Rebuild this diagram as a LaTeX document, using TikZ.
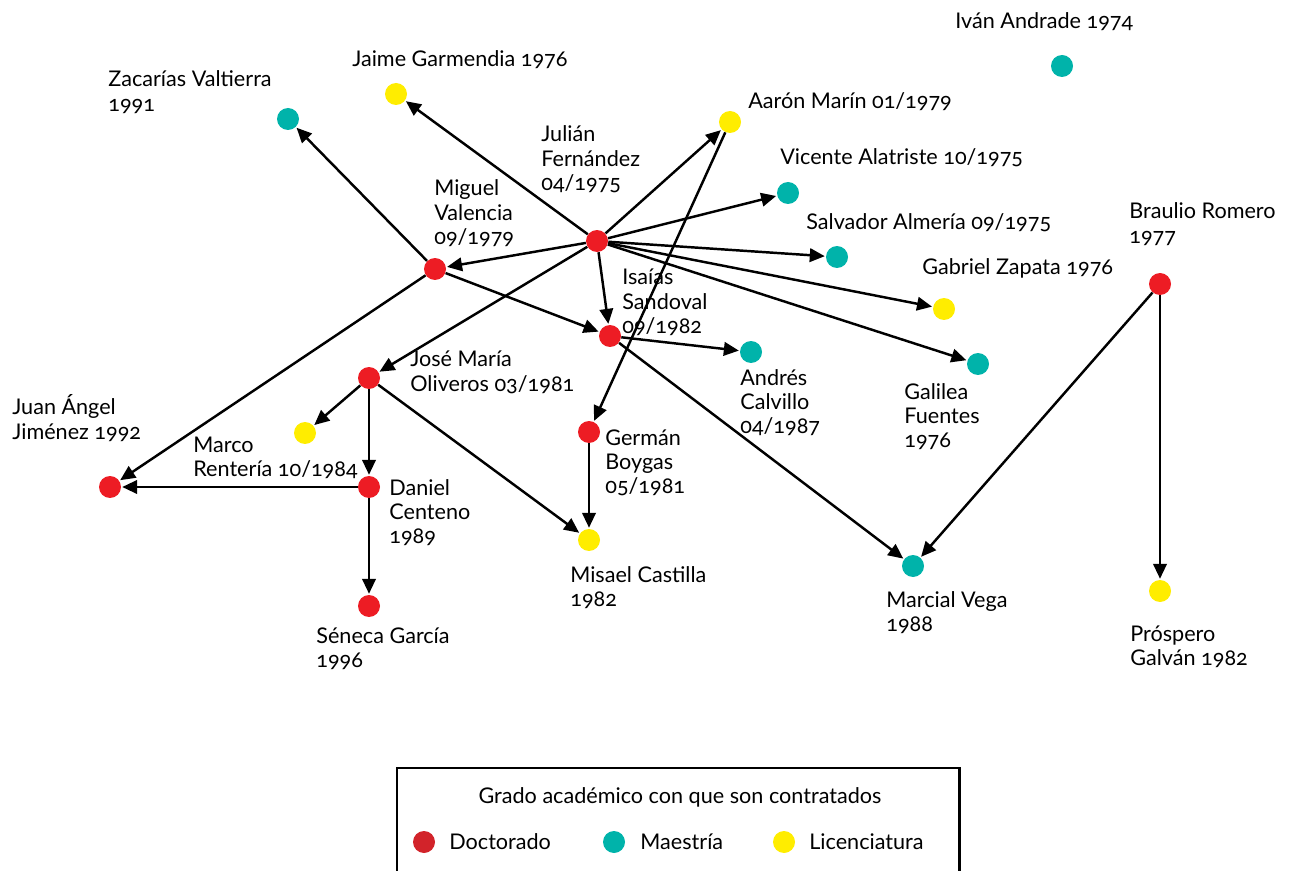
\documentclass[tikz,border=0pt]{standalone}
\usepackage{fontspec}
\setmainfont[Numbers=OldStyle]{Lato}
\usetikzlibrary{arrows.meta}
\definecolor{docred}{HTML}{ED1C24}
\definecolor{legred}{HTML}{D2232A}
\definecolor{masteal}{HTML}{00B3AA}
\definecolor{licyel}{HTML}{FFED00}
\newcommand\lines[1]{\begin{tabular}[t]{@{}l@{}}#1\end{tabular}}
\tikzset{
  dot/.style={circle, inner sep=0pt, minimum size=0.44cm},
  doc/.style={dot, fill=docred},
  mae/.style={dot, fill=masteal},
  lic/.style={dot, fill=licyel},
  lbl/.style={anchor=base west, inner sep=0pt,
    font=\fontsize{12.3pt}{13.9pt}\selectfont},
  link/.style={line width=1.4pt, -{Triangle[length=0.3cm,width=0.27cm]}, shorten >=0.5pt},
}
\begin{document}
\begin{tikzpicture}[x=0.02cm, y=-0.02cm]
\useasboundingbox (0,0) rectangle (1291,871);

% people
\node[doc] (julian)   at (597,241) {};
\node[doc] (miguel)   at (435,269) {};
\node[doc] (isaias)   at (610,336) {};
\node[doc] (jose)     at (369,378) {};
\node[doc] (daniel)   at (369,487) {};
\node[doc] (seneca)   at (369,606) {};
\node[doc] (juan)     at (110,487) {};
\node[doc] (german)   at (589,432) {};
\node[doc] (braulio)  at (1160,284) {};
\node[lic] (misael)   at (589,540) {};
\node[lic] (marco)    at (305,433) {};
\node[lic] (prospero) at (1160,591) {};
\node[lic] (gabriel)  at (944,309) {};
\node[lic] (aaron)    at (730,122) {};
\node[lic] (jaime)    at (396,94) {};
\node[mae] (marcial)  at (913,566) {};
\node[mae] (andres)   at (751,352) {};
\node[mae] (galilea)  at (978,364) {};
\node[mae] (salvador) at (837,257) {};
\node[mae] (vicente)  at (788,193) {};
\node[mae] (zacarias) at (288,119) {};
\node[mae] (ivan)     at (1062,66) {};

% names and dates
\node[lbl] (l-ivan)     at (955,29)   {Iván Andrade 1974};
\node[lbl] (l-jaime)    at (352,67)   {Jaime Garmendia 1976};
\node[lbl] (l-zacarias) at (108,87)   {\lines{Zacarías Valtierra\\1991}};
\node[lbl] (l-aaron)    at (748,109)  {Aarón Marín 01/1979};
\node[lbl] (l-julian)   at (541,142)  {\lines{Julián\\Fernández\\04/1975}};
\node[lbl] (l-vicente)  at (780,165)  {Vicente Alatriste 10/1975};
\node[lbl] (l-salvador) at (806,230)  {Salvador Almería 09/1975};
\node[lbl] (l-miguel)   at (434,196)  {\lines{Miguel\\Valencia\\09/1979}};
\node[lbl] (l-braulio)  at (1129,219) {\lines{Braulio Romero\\1977}};
\node[lbl] (l-gabriel)  at (922,275)  {Gabriel Zapata 1976};
\node[lbl] (l-isaias)   at (622,285)  {\lines{Isaías\\Sandoval\\09/1982}};
\node[lbl] (l-andres)   at (740,385)  {\lines{Andrés\\Calvillo\\04/1987}};
\node[lbl] (l-galilea)  at (904,399)  {\lines{Galilea\\Fuentes\\1976}};
\node[lbl] (l-jose)     at (410,367)  {\lines{José María\\Oliveros 03/1981}};
\node[lbl] (l-marco)    at (193,452)  {\lines{Marco\\Rentería 10/1984}};
\node[lbl] (l-juan)     at (12,415)   {\lines{Juan Ángel\\Jiménez 1992}};
\node[lbl] (l-german)   at (605,445)  {\lines{Germán\\Boygas\\05/1981}};
\node[lbl] (l-daniel)   at (389,495)  {\lines{Daniel\\Centeno\\1989}};
\node[lbl] (l-misael)   at (570,582)  {\lines{Misael Castilla\\1982}};
\node[lbl] (l-marcial)  at (886,607)  {\lines{Marcial Vega\\1988}};
\node[lbl] (l-seneca)   at (316,643)  {\lines{Séneca García\\1996}};
\node[lbl] (l-prospero) at (1130,641) {\lines{Próspero\\Galván 1982}};

% who hired whom
\foreach \t in {jaime, aaron, vicente, salvador, gabriel, galilea, miguel, isaias, jose}
  \draw[link] (julian) -- (\t);
\draw[link] (miguel) -- (zacarias);
\draw[link] (miguel) -- (juan);
\draw[link] (miguel) -- (isaias);
\draw[link] (isaias) -- (andres);
\draw[link] (isaias) -- (marcial);
\draw[link] (aaron) -- (german);
\draw[link] (jose) -- (marco);
\draw[link] (jose) -- (daniel);
\draw[link] (jose) -- (misael);
\draw[link] (daniel) -- (juan);
\draw[link] (daniel) -- (seneca);
\draw[link] (german) -- (misael);
\draw[link] (braulio) -- (marcial);
\draw[link] (braulio) -- (prospero);

% legend
\draw[line width=1.7pt] (397,880) -- (397,768) -- (959,768) -- (959,880);
\node[lbl, anchor=base] (leg-title) at (680,803) {Grado académico con que son contratados};
\node[dot, fill=legred]  (leg-doc) at (424,842) {};
\node[lbl] (leg-doc-t) at (449,849) {Doctorado};
\node[mae] (leg-mae) at (614,842) {};
\node[lbl] (leg-mae-t) at (640,849) {Maestría};
\node[lic] (leg-lic) at (784,842) {};
\node[lbl] (leg-lic-t) at (809,849) {Licenciatura};
\end{tikzpicture}
\end{document}
